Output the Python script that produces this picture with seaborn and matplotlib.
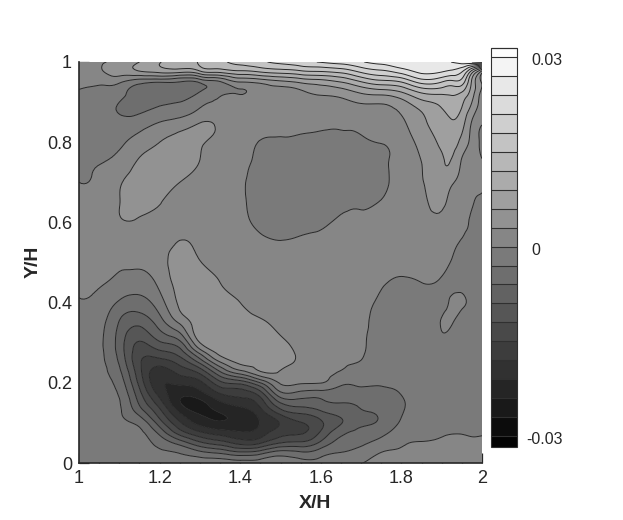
import numpy as np
import seaborn as sns
import matplotlib.pyplot as plt
import matplotlib.tri as mtri
from matplotlib.ticker import MultipleLocator, FormatStrFormatter

sns.set_style("ticks")
plt.rcParams['font.family'] = ['Liberation Sans', 'DejaVu Sans']

# grid
y_grid = [0, .025, .05, .075, .1, .125, .15, .175, .2, .225, .25, .275, .3,
          .35, .4, .45, .5, .55, .6, .65, .7, .75, .8, .85, .9, .925, .95, .975, 1]
x_grid = [1, 1.05, 1.1, 1.15, 1.2, 1.25, 1.3, 1.35, 1.4, 1.45, 1.5, 1.55, 1.6, 1.65, 1.7, 1.75, 1.8, 1.85, 1.9, 1.925, 1.95, 1.975, 2]

# field values (x 1e-3), one list per x column, from y=0 to y=1
col_100 = [-1.5,-1.5,-1.5,-1.5,-1.5,-1.5,-1.5,-1.5,-1.5,-1.4,-1.3,-1.2,-1, -.6,-.1,.3,.6,.7,.6,.35,0,-.35,-.8,-1,-.6,-.1,.3,.7,1]
col_105 = [-1.5,-1.6,-1.7,-1.8,-1.9,-2,-2,-2.1,-2.2,-2.3,-2.4,-2.4,-2.4, -1.9,-.8,.3,.9,1.2,1.3,1,.5,-.1,-.8,-1.5,-1.3,-.5,.5,2.5,2.5]
col_110 = [-1.5,-1.7,-2,-2.3,-2.6,-2.7,-2.8,-3.4,-4.3,-5.3,-6.3,-7.1,-7.3, -6.2,-3.4,-.8,.3,1,2.7,2.95,2.7,1,-.4,-2,-3,-1.5,.4,4.3,3.4]
col_115 = [-1.8,-1.9,-2,-2.4,-3.9,-7,-9.5,-11.2,-12.9,-14,-14.5,-13.8,-12.3, -8.2,-4.2,-1.4,.5,1.4,2.7,3.5,3.9,3.4,1.3,-1.6,-4.3,-4.7,-2,5.5,6]
col_120 = [-2,-2.5,-4,-6.8,-10.5,-13.7,-16.7,-19.2,-20.5,-19.8,-16.7,-13,-9.4, -4.5,-1.3,.7,1.5,1.9,2.4,3.1,3.8,4,3,0,-3.5,-4.8,-2.8,6.5,8.7]
col_125 = [-1.5,-3.1,-7.2,-13.3,-17.5,-21,-23.8,-22.8,-20.3,-17.3,-14.2,-10.6,-6.9, .4,3.6,4.5,4.7,3.1,2.7,2.1,3,3.5,3.6,1.2,-3,-4.2,-3.1,6.5,11]
col_130 = [-1,-5,-11.3,-17.3,-22,-24.3,-24.8,-21.8,-18.8,-14.5,-8.6,-2.3,3, 4.6,5.3,5.5,3.2,2.4,1.6,1.6,2,2.95,3.3,2.9,-1,-2.9,-2.5,8,12.8]
col_135 = [-1,-6.3,-13.5,-19.3,-23.6,-24,-21.5,-17.7,-12.9,-6.8,-.5,3.8,4.6, 5,4.5,3,2,1.3,1,.8,.9,1.2,2.2,2.4,.4,-.9,-.4,9.5,14.4]
col_140 = [-1.5,-8,-16,-20.5,-23,-22.5,-19.8,-16.5,-11,-1.9,3.5,4.4,4.5, 4,3,2,1.3,.8,.5,.3,.3,.5,1,1.2,1,-.2,3,11,16]
col_145 = [-1.5,-7,-15.3,-19.5,-20.8,-19.5,-16.8,-13,-6,2.3,3.8,4.3,4.4, 3.3,2,1.4,.9,.4,-.5,-.9,-1,-.6,-.1,.7,1.2,1.4,3.8,12,17.4]
col_150 = [-1.5,-4.5,-12,-16.2,-17.8,-14,-9,-3.5,.3,2.7,3.8,3.9,3.5, 2.4,1.7,1.1,.6,.1,-1,-1.5,-1.7,-1.5,-.3,.5,1.2,1.6,5.2,13,18.8]
col_155 = [-2,-5.3,-11.3,-15.3,-15.2,-11.7,-7.5,-3.7,.3,1.7,2.5,2.6,2.3, 1.8,1.4,1,.6,.2,-.6,-1.7,-2,-1.9,-.6,.6,1.4,2.5,6.5,14,20]
col_160 = [-2.2,-4.2,-8.3,-11.5,-12.5,-9.8,-6.8,-4.1,.1,1,1.5,1.8,1.8, 1.6,1.3,.9,.6,.3,-.4,-1.8,-2.2,-2.2,-1,.4,1.6,3.8,7.5,14.6,21.2]
col_165 = [-1.8,-2.9,-4.8,-6.8,-9.2,-8,-6,-4.2,-2.4,-.3,.4,.8,1, 1.2,1,.8,.6,.4,.3,-.7,-1.8,-2.2,-1,.3,2,4.6,9,15.6,22.2]
col_170 = [-.1,-1.8,-3.5,-5,-6.4,-6.2,-5.7,-3.9,-2.6,-1.3,-.2,.3,.4, .6,.8,.8,.6,.4,.2,-.2,-1,-1.4,-.4,.6,3.3,6.5,11.8,18.3,23.7]
col_175 = [.7,.1,-1.9,-3.8,-5.5,-5.6,-4.9,-3.6,-2.8,-2.2,-1.8,-1.5,-1.3, -1,-.5,.2,.5,.6,.5,.1,-.4,-.4,.1,1.5,3.4,7.5,13.8,20,25]
col_180 = [1,.5,-.4,-1.5,-2.6,-3.2,-3.3,-2.9,-2.6,-2.3,-2,-1.9,-1.8, -1.4,-.9,-.2,.4,.8,.9,.9,.8,.9,1.3,2.6,5,9,15,22,26]
col_185 = [1.3,.6,.1,-.8,-1.5,-1.9,-2.1,-2.1,-2,-2,-1.9,-1.7,-1.5, -1.1,-.6,0,.5,1,1.6,2.2,2.7,3,4,5.2,8.2,12.5,19,24.5,26]
col_190 = [1.5,1,.4,-.3,-1,-1.4,-1.5,-1.6,-1.6,-1.5,-1.4,-1,-.4, .1,-.5,-.2,.3,1.1,2.3,3.5,4.6,5.6,6.7,8,9.8,13,18,24,26.6]
col_1925 = [1.6,1.1,.6,-.1,-.8,-1.1,-1.3,-1.4,-1.4,-1.3,-1.2,-1,-.8, .1,.25,-.5,-.1,.5,1.2,2.3,3.4,5.7,7.4,8.8,10.8,12.8,17,23,27]
col_195 = [1.5,1,.5,-.1,-.8,-1,-1.2,-1.3,-1.3,-1.3,-1.2,-1.1,-1, -.7,.25,-.6,-.8,-.2,.6,1.5,2,2.7,5,7.3,9.5,12,16.5,21,28.5]
col_1975 = [1.2,.8,.3,-.2,-.7,-.9,-1,-1,-1.1,-1.1,-1.1,-1,-1, -1,-.4,-1,-1,-.8,-.3,.2,.9,1.5,2.2,2.8,6,7.5,8.5,13,30]
col_200 = [1,.6,.2,-.1,-.5,-.7,-.8,-.9,-.9,-1,-1,-1,-1, -1,-1,-1,-.9,-.7,-.5,-.2,.4,.3,-1,.3,1.5,2,2.6,4,31]

columns = [col_100, col_105, col_110, col_115, col_120, col_125, col_130, col_135,
           col_140, col_145, col_150, col_155, col_160, col_165, col_170, col_175,
           col_180, col_185, col_190, col_1925, col_195, col_1975, col_200]
z = np.array(columns).T * 1e-3

line_levels = np.arange(-10, 11) * 3e-3
fill_levels = [-0.0317] + list(line_levels) + [0.0314]
bar_labels = [0.03, 0, -0.03]

fig = plt.figure(figsize=(6.23, 5.2), dpi=100)
W, H = 623., 520.
ax = fig.add_axes([79/W, (H-463)/H, 403/W, 401/H])
cax = fig.add_axes([491/W, (H-447)/H, 26/W, 399/H])

# let matplotlib's tri tools draw smooth contours through the grid values
xx, yy = np.meshgrid(x_grid, y_grid)
tri = mtri.Triangulation(xx.ravel(), yy.ravel())
refiner = mtri.UniformTriRefiner(tri)
tri_fine, z_fine = refiner.refine_field(z.ravel(), subdiv=3)
z_fine = np.clip(z_fine, -0.0316, 0.0313)

gray = sns.color_palette("gray", as_cmap=True)
cf = ax.tricontourf(tri_fine, z_fine, levels=fill_levels, cmap=gray,
                    vmin=-0.0317, vmax=0.0314, antialiased=True)
ax.tricontour(tri_fine, z_fine, levels=line_levels, colors='#262626', linewidths=0.7,
              linestyles='solid')

ax.set_xlim(1, 2)
ax.set_ylim(0, 1)
for axis in (ax.xaxis, ax.yaxis):
    axis.set_major_locator(MultipleLocator(0.2))
    axis.set_minor_locator(MultipleLocator(0.05))
    axis.set_major_formatter(FormatStrFormatter('%g'))
ax.tick_params(which='major', direction='in', length=7.5, width=0.9, labelsize=13, pad=5)
ax.tick_params(which='minor', direction='in', length=3.6, width=0.9)
sns.despine(ax=ax)
ax.spines['left'].set_linewidth(1.2)
ax.spines['bottom'].set_linewidth(1.2)

fig.text(315/W, 1-503/H, 'X/H', fontsize=14, fontweight='bold', ha='center', va='center')
fig.text(33/W, 1-262/H, 'Y/H', fontsize=14, fontweight='bold', ha='center', va='center', rotation=90)

cbar = fig.colorbar(cf, cax=cax, spacing='proportional', drawedges=True)
cbar.dividers.set_color('#303030')
cbar.dividers.set_linewidth(0.8)
cbar.outline.set_edgecolor('#303030')
cbar.outline.set_linewidth(0.8)
cax.set_yticks([])
for val in bar_labels:
    cax.annotate('%g' % val, xy=(1, val), xycoords=cax.get_yaxis_transform(),
                 xytext=(7 if val < 0 else 10.5, -2.6), textcoords='offset points',
                 fontsize=11.5, ha='left', va='center')

fig.savefig('out.png', dpi=100)
